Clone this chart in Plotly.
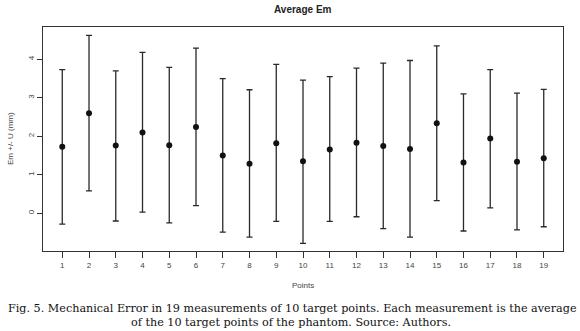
import plotly.graph_objects as go

points = list(range(1, 20))
mean_em = [1.73, 2.60, 1.76, 2.10, 1.77, 2.24, 1.50, 1.29, 1.82, 1.35,
           1.66, 1.83, 1.75, 1.67, 2.34, 1.32, 1.94, 1.34, 1.43]
upper = [3.73, 4.62, 3.70, 4.18, 3.79, 4.29, 3.50, 3.21, 3.87, 3.46,
         3.55, 3.77, 3.90, 3.97, 4.35, 3.10, 3.73, 3.12, 3.22]
lower = [-0.28, 0.58, -0.20, 0.03, -0.25, 0.20, -0.49, -0.62, -0.21, -0.78,
         -0.21, -0.09, -0.40, -0.62, 0.33, -0.46, 0.14, -0.43, -0.35]
x_ticks = list(range(1, 20))
y_ticks = [0, 1, 2, 3, 4]

err_plus = [u - m for u, m in zip(upper, mean_em)]
err_minus = [m - l for m, l in zip(mean_em, lower)]

line_col = "#2a2a2a"
fig = go.Figure()
fig.add_trace(go.Scatter(
    x=points, y=mean_em, mode="markers",
    marker=dict(color="#111111", size=6),
    error_y=dict(type="data", symmetric=False, array=err_plus, arrayminus=err_minus,
                 color=line_col, thickness=1.3, width=3),
    showlegend=False,
))

W, H = 580, 331
L, R, T, B = 43, 17, 27, 80
pw, ph = W - L - R, H - T - B

def px_x(px):
    return (px - L) / pw

def px_y(py):
    return (H - B - py) / ph

axis_font = dict(family="Liberation Sans, Arial, sans-serif", size=8, color="#444444")
fig.update_layout(
    width=W, height=H,
    margin=dict(l=L, r=R, t=T, b=B),
    paper_bgcolor="white", plot_bgcolor="white",
    xaxis=dict(range=[0.28, 19.72], tickvals=x_ticks, ticktext=[str(v) for v in x_ticks],
               showgrid=False, zeroline=False, showline=True, mirror=True,
               linecolor="#333333", linewidth=1.2, ticks="outside", ticklen=6,
               tickcolor="#333333", tickfont=axis_font),
    yaxis=dict(range=[-0.98, 4.84], tickvals=y_ticks, ticktext=[str(v) for v in y_ticks],
               showgrid=False, zeroline=False, showline=True, mirror=True,
               linecolor="#333333", linewidth=1.2, ticks="outside", ticklen=5,
               tickcolor="#333333", tickfont=axis_font, tickangle=-90),
    annotations=[
        dict(text="<b>Average Em</b>", x=px_x(303), y=px_y(9), xref="paper", yref="paper",
             showarrow=False, xanchor="center", yanchor="middle",
             font=dict(family="Liberation Sans, Arial, sans-serif", size=10, color="#222222")),
        dict(text="Points", x=px_x(303), y=px_y(285), xref="paper", yref="paper",
             showarrow=False, xanchor="center", yanchor="middle",
             font=dict(family="Liberation Sans, Arial, sans-serif", size=8, color="#444444")),
        dict(text="Em +/- U (mm)", x=px_x(10), y=px_y(139), xref="paper", yref="paper",
             showarrow=False, xanchor="center", yanchor="middle", textangle=-90,
             font=dict(family="Liberation Sans, Arial, sans-serif", size=8, color="#444444")),
        dict(text="Fig. 5. Mechanical Error in 19 measurements of 10 target points. Each measurement is the average",
             x=px_x(292), y=px_y(308), xref="paper", yref="paper",
             showarrow=False, xanchor="center", yanchor="middle",
             font=dict(family="DejaVu Serif, serif", size=11.2, color="#111111")),
        dict(text="of the 10 target points of the phantom. Source: Authors.",
             x=px_x(291), y=px_y(322.5), xref="paper", yref="paper",
             showarrow=False, xanchor="center", yanchor="middle",
             font=dict(family="DejaVu Serif, serif", size=11.2, color="#111111")),
    ],
)

fig.write_html("out.html", config={"displayModeBar": False},
               post_script="document.body.style.margin='0px';document.body.style.padding='0px';")
